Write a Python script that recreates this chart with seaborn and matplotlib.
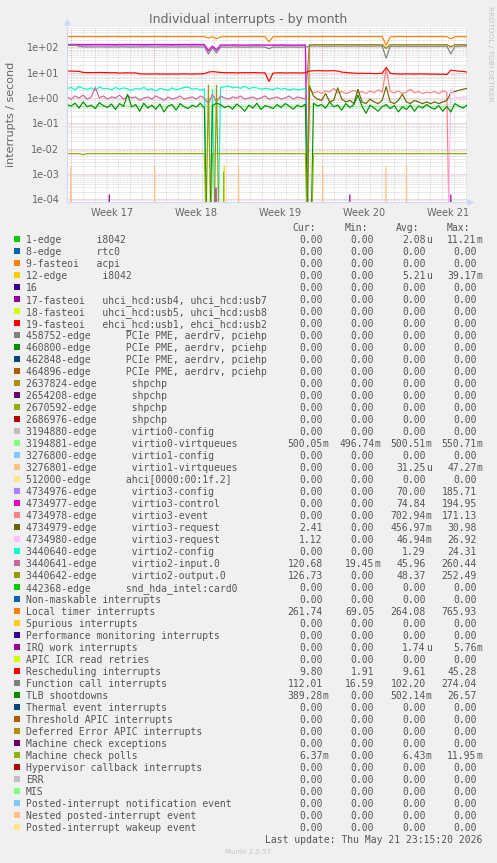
import numpy as np
import pandas as pd
import matplotlib
matplotlib.use("Agg")
import matplotlib.pyplot as plt
import seaborn as sns
from matplotlib.ticker import LogLocator, NullFormatter, FixedLocator, FuncFormatter
from matplotlib.patches import Rectangle

# ------------------------------------------------------------------ data
SPAN_DAYS = 33.4
N_POINTS = 100
days = np.linspace(0, SPAN_DAYS, N_POINTS)

week_starts = [0.3, 7.3, 14.3, 21.3, 28.3]
week_labels = ["Week 17", "Week 18", "Week 19", "Week 20", "Week 21"]

local_timer = [266, 265, 267, 266, 265, 266, 264, 265, 266, 265,
               266, 265, 264, 265, 266, 265, 264, 266, 265, 264,
               265, 266, 265, 264, 265, 266, 265, 264, 265, 266,
               265, 264, 265, 266, 264, 232, 262, 218, 258, 264,
               265, 264, 265, 266, 265, 264, 265, 266, 265, 264,
               165, 262, 265, 264, 265, 266, 265, 264, 265, 266,
               265, 264, 266, 265, 264, 265, 266, 265, 264, 265,
               266, 265, 264, 265, 266, 265, 264, 265, 266, 120,
               258, 264, 265, 266, 265, 264, 265, 266, 265, 264,
               265, 266, 265, 264, 265, 215, 262, 265, 264, 262]

virtio3_config = [120, 120, 121, 120, 120, 119, 120, 120, 121, 120,
                  120, 120, 119, 120, 120, 121, 120, 120, 120, 119,
                  120, 120, 121, 120, 120, 120, 119, 120, 120, 121,
                  120, 120, 120, 119, 120, 70, 108, 72, 118, 118,
                  118, 119, 118, 118, 117, 118, 118, 119, 118, 118,
                  117, 118, 118, 119, 118, 118, 117, 118, 118, 118,
                  0, 0, 0, 0, 0, 0, 0, 0, 0, 0,
                  0, 0, 0, 0, 0, 0, 0, 0, 0, 0,
                  0, 0, 0, 0, 0, 0, 0, 0, 0, 0,
                  0, 0, 0, 0, 0, 0, 0, 0, 0, 0]

virtio3_control = [130, 130, 131, 130, 130, 129, 130, 130, 131, 130,
                   130, 130, 129, 130, 130, 131, 130, 130, 130, 129,
                   130, 130, 131, 130, 130, 130, 129, 130, 130, 131,
                   130, 130, 130, 129, 130, 75, 112, 80, 124, 124,
                   124, 125, 124, 124, 123, 124, 124, 125, 124, 124,
                   123, 124, 124, 125, 124, 124, 123, 124, 124, 124,
                   0, 0, 0, 0, 0, 0, 0, 0, 0, 0,
                   0, 0, 0, 0, 0, 0, 0, 0, 0, 0,
                   0, 0, 0, 0, 0, 0, 0, 0, 0, 0,
                   0, 0, 0, 0, 0, 0, 0, 0, 0, 0]

virtio3_event = [0, 0, 0, 0, 0, 0, 0, 0, 0, 0,
                 0, 0, 0, 0, 0, 0, 0, 0, 0, 0,
                 0, 0, 0, 0, 0, 0, 0, 0, 0, 0,
                 0, 0, 0, 0, 0, 0, 0, 0, 0, 0,
                 0, 0, 0, 0, 0, 0, 0, 0, 0, 0,
                 0, 0, 0, 0, 0, 0, 0, 0, 0, 0,
                 2.2, 1.6, 1.8, 1.5, 1.9, 1.7, 2.4, 1.6, 1.8, 1.5,
                 1.7, 2.0, 1.6, 1.8, 1.5, 1.9, 1.6, 2.1, 1.7, 14.0,
                 1.8, 1.6, 1.9, 1.5, 1.7, 2.2, 1.6, 1.8, 1.5, 1.7,
                 1.6, 1.8, 1.5, 1.9, 1.7, 0, 0, 0, 0, 0]

virtio3_request_a = [0, 0, 0, 0, 0, 0, 0, 0, 0, 0,
                     0, 0, 0, 0, 0, 0, 0, 0, 0, 0,
                     0, 0, 0, 0, 0, 0, 0, 0, 0, 0,
                     0, 0, 0, 0, 0, 0, 0, 0, 0, 0,
                     0, 0, 0, 0, 0, 0, 0, 0, 0, 0,
                     0, 0, 0, 0, 0, 0, 0, 0, 0, 0,
                     3.0, 1.2, 0.9, 0.8, 1.5, 0.7, 0.8, 2.5, 0.9, 0.7,
                     0.8, 0.6, 2.2, 0.7, 0.6, 0.9, 0.7, 0.6, 0.8, 2.8,
                     0.7, 0.6, 0.8, 1.4, 0.7, 0.6, 0.8, 0.7, 0.6, 0.7,
                     0.6, 0.7, 0.6, 0.7, 0.8, 1.6, 1.8, 2.0, 2.2, 2.4]

virtio3_request_b = [0, 0, 0, 0, 0, 0, 0, 0, 0, 0,
                     0, 0, 0, 0, 0, 0, 0, 0, 0, 0,
                     0, 0, 0, 0, 0, 0, 0, 0, 0, 0,
                     0, 0, 0, 0, 0, 0, 0, 0, 0, 0,
                     0, 0, 0, 0, 0, 0, 0, 0, 0, 0,
                     0, 0, 0, 0, 0, 0, 0, 0, 0, 0,
                     0, 0, 0, 0, 0, 0, 0, 0, 0, 0,
                     0, 0, 0, 0, 0, 0, 0, 0, 0, 0,
                     0, 0, 0, 0, 0, 0, 0, 0, 0, 0,
                     0, 0, 0, 0, 0, 2.5, 1.1, 1.0, 1.1, 1.12]

virtio2_config = [2.3, 2.6, 2.1, 2.8, 2.4, 2.2, 2.5, 2.0, 2.7, 2.3,
                  2.4, 2.1, 2.6, 2.2, 2.5, 2.3, 2.0, 2.4, 2.2, 2.6,
                  2.1, 2.3, 1.9, 2.4, 2.2, 2.0, 2.5, 2.1, 2.3, 2.6,
                  2.7, 2.2, 2.4, 2.0, 2.3, 0, 2.2, 0, 2.6, 2.8,
                  3.0, 2.5, 2.7, 2.4, 2.9, 2.3, 2.6, 2.5, 2.2, 2.4,
                  2.3, 2.1, 2.5, 2.2, 2.4, 2.0, 2.3, 2.1, 2.2, 2.4,
                  0, 0, 0, 0, 0, 0, 0, 0, 0, 0,
                  0, 0, 0, 0, 0, 0, 0, 0, 0, 0,
                  0, 0, 0, 0, 0, 0, 0, 0, 0, 0,
                  0, 0, 0, 0, 0, 0, 0, 0, 0, 0]

virtio2_input = [1.1, 0.9, 1.2, 1.0, 1.3, 0.9, 1.1, 2.6, 1.0, 1.2,
                 0.9, 1.1, 1.0, 1.3, 0.9, 1.2, 1.0, 1.1, 0.8, 1.0,
                 1.1, 0.9, 1.2, 1.0, 0.8, 1.1, 0.9, 1.0, 1.2, 0.9,
                 1.0, 1.1, 0.9, 1.2, 1.0, 0.6, 1.4, 0.7, 1.2, 1.0,
                 0.9, 1.1, 1.0, 1.2, 0.9, 1.0, 1.1, 0.9, 1.0, 1.2,
                 0.9, 1.0, 1.1, 0.9, 1.0, 1.2, 0.9, 1.1, 1.0, 0.9,
                 127, 127, 127, 127, 127, 127, 127, 127, 127, 127,
                 127, 127, 127, 127, 127, 127, 127, 127, 127, 90,
                 127, 127, 127, 127, 127, 127, 127, 127, 127, 127,
                 127, 127, 127, 127, 127, 105, 127, 127, 127, 120]

virtio2_output = [0, 0, 0, 0, 0, 0, 0, 0, 0, 0,
                  0, 0, 0, 0, 0, 0, 0, 0, 0, 0,
                  0, 0, 0, 0, 0, 0, 0, 0, 0, 0,
                  0, 0, 0, 0, 0, 3.2, 0, 3.2, 0, 0,
                  0, 0, 0, 0, 0, 0, 0, 0, 0, 0,
                  0, 0, 0, 0, 0, 0, 0, 0, 0, 0,
                  128, 128, 129, 128, 128, 127, 128, 128, 129, 128,
                  128, 128, 127, 128, 128, 129, 128, 128, 128, 92,
                  128, 128, 129, 128, 128, 127, 128, 128, 129, 128,
                  128, 128, 127, 128, 128, 105, 127, 128, 127, 127]

rescheduling = [11.5, 11.6, 11.4, 11.2, 10.2, 10.0, 10.1, 10.0, 10.2, 10.1,
                10.0, 9.9, 10.0, 9.6, 9.8, 9.9, 9.7, 9.8, 9.0, 8.9,
                8.8, 8.9, 9.0, 8.8, 8.9, 8.7, 8.9, 8.8, 8.9, 9.0,
                8.9, 8.8, 9.0, 8.9, 9.1, 10.5, 11.0, 10.6, 10.2, 10.0,
                9.9, 10.0, 9.8, 9.9, 10.0, 9.9, 10.1, 10.0, 9.8, 9.9,
                4.5, 9.6, 9.8, 9.9, 9.7, 9.8, 9.9, 9.8, 9.7, 9.9,
                11.6, 11.8, 12.0, 11.9, 11.7, 11.8, 12.0, 11.6, 10.5, 10.2,
                9.8, 9.6, 9.4, 9.5, 9.3, 9.4, 9.2, 9.3, 9.4, 16.0,
                9.5, 9.0, 8.9, 8.8, 9.0, 8.9, 8.8, 9.0, 8.9, 8.8,
                8.7, 8.8, 8.6, 8.7, 8.5, 12.5, 12.0, 11.4, 11.2, 10.5]

function_call = [122, 122, 121, 110, 104, 104, 103, 104, 105, 104,
                 104, 103, 104, 104, 105, 104, 103, 104, 104, 105,
                 104, 104, 103, 104, 105, 104, 104, 103, 104, 104,
                 105, 104, 104, 103, 104, 55, 95, 60, 103, 103,
                 102, 103, 104, 103, 102, 103, 103, 104, 103, 102,
                 88, 103, 103, 102, 103, 104, 103, 102, 103, 103,
                 112, 112, 113, 112, 111, 112, 112, 113, 112, 111,
                 112, 112, 113, 112, 111, 112, 112, 113, 112, 37,
                 110, 111, 110, 110, 111, 110, 110, 111, 110, 110,
                 111, 110, 110, 111, 110, 55, 108, 111, 112, 112]

tlb_shootdowns = [0.55, 0.48, 0.62, 0.40, 0.70, 0.45, 0.52, 0.38, 0.65, 0.50,
                  0.42, 0.58, 0.35, 0.60, 0.47, 1.40, 0.44, 0.55, 0.30, 0.62,
                  0.40, 0.52, 0.36, 0.58, 0.28, 0.48, 0.55, 0.33, 0.60, 0.45,
                  0.38, 0.52, 0.44, 0.62, 0.40, 0.0, 0.50, 0.62, 0.55, 0.42,
                  0.48, 0.36, 0.58, 0.44, 0.30, 0.52, 0.40, 0.62, 0.35, 0.50,
                  0.45, 0.38, 0.55, 0.42, 0.60, 0.48, 0.36, 0.52, 0.44, 0.58,
                  0.0, 0.62, 0.48, 0.55, 0.40, 0.70, 0.45, 0.52, 0.33, 0.60,
                  0.42, 0.55, 1.30, 0.48, 0.25, 0.52, 0.40, 0.30, 0.45, 0.55,
                  0.38, 0.50, 0.28, 0.45, 0.35, 0.52, 0.30, 0.48, 0.40, 0.55,
                  0.42, 0.36, 0.50, 0.30, 0.46, 0.28, 0.60, 0.48, 0.40, 0.52]

virtio0_virtqueues = [0.50, 0.50, 0.50, 0.50, 0.50, 0.50, 0.50, 0.50, 0.50, 0.50,
                      0.50, 0.50, 0.50, 0.50, 0.50, 0.50, 0.50, 0.50, 0.50, 0.50,
                      0.50, 0.50, 0.50, 0.50, 0.50, 0.50, 0.50, 0.50, 0.50, 0.50,
                      0.50, 0.50, 0.50, 0.50, 0.50, 0.50, 0.50, 0.50, 0.50, 0.50,
                      0.50, 0.50, 0.50, 0.50, 0.50, 0.50, 0.50, 0.50, 0.50, 0.50,
                      0.50, 0.50, 0.50, 0.50, 0.50, 0.50, 0.50, 0.50, 0.50, 0.50,
                      0.50, 0.50, 0.50, 0.50, 0.50, 0.50, 0.50, 0.50, 0.50, 0.50,
                      0.50, 0.50, 0.50, 0.50, 0.50, 0.50, 0.50, 0.50, 0.50, 0.50,
                      0.50, 0.50, 0.50, 0.50, 0.50, 0.50, 0.50, 0.50, 0.50, 0.50,
                      0.50, 0.50, 0.50, 0.50, 0.50, 0.50, 0.50, 0.50, 0.50, 0.50]

machine_check_polls = [0.0064, 0.0064, 0.0064, 0.0064, 0.0057, 0.0064, 0.0064, 0.0064, 0.0064, 0.0064,
                       0.0064, 0.0064, 0.0064, 0.0064, 0.0064, 0.0064, 0.0064, 0.0064, 0.0064, 0.0064,
                       0.0064, 0.0064, 0.0064, 0.0064, 0.0064, 0.0064, 0.0064, 0.0064, 0.0064, 0.0064,
                       0.0064, 0.0064, 0.0064, 0.0064, 0.0064, 0.0, 0.0064, 0.0064, 0.0064, 0.0064,
                       0.0064, 0.0064, 0.0064, 0.0064, 0.0064, 0.0064, 0.0064, 0.0064, 0.0064, 0.0064,
                       0.0064, 0.0064, 0.0064, 0.0064, 0.0064, 0.0064, 0.0064, 0.0064, 0.0064, 0.0064,
                       0.0, 0.0064, 0.0064, 0.0064, 0.0064, 0.0064, 0.0064, 0.0064, 0.0064, 0.0064,
                       0.0064, 0.0064, 0.0064, 0.0064, 0.0064, 0.0064, 0.0064, 0.0064, 0.0064, 0.0064,
                       0.0064, 0.0064, 0.0064, 0.0064, 0.0064, 0.0064, 0.0064, 0.0064, 0.0064, 0.0064,
                       0.0064, 0.0064, 0.0064, 0.0064, 0.0064, 0.0064, 0.0064, 0.0064, 0.0064, 0.0064]

# sparse bursts (day, rate)
virtio1_spike_days = [0.32, 7.32, 14.32, 21.35, 26.63, 28.35]
virtio1_spike_vals = [0.0020, 0.0020, 0.0020, 0.0020, 0.0020, 0.0020]
edge12_spike_days = [13.13]
edge12_spike_vals = [0.0020]
edge1_spike_days = [13.08]
edge1_spike_vals = [0.0012]
irq_work_spike_days = [3.53, 12.44, 23.62, 32.05]
irq_work_spike_vals = [0.00015, 0.00028, 0.00015, 0.00015]

# legend table
legend_labels = [
    "1-edge      i8042", "8-edge      rtc0", "9-fasteoi   acpi", "12-edge      i8042", "16",
    "17-fasteoi   uhci_hcd:usb4, uhci_hcd:usb7", "18-fasteoi   uhci_hcd:usb5, uhci_hcd:usb8",
    "19-fasteoi   ehci_hcd:usb1, ehci_hcd:usb2",
    "458752-edge      PCIe PME, aerdrv, pciehp", "460800-edge      PCIe PME, aerdrv, pciehp",
    "462848-edge      PCIe PME, aerdrv, pciehp", "464896-edge      PCIe PME, aerdrv, pciehp",
    "2637824-edge      shpchp", "2654208-edge      shpchp", "2670592-edge      shpchp",
    "2686976-edge      shpchp", "3194880-edge      virtio0-config", "3194881-edge      virtio0-virtqueues",
    "3276800-edge      virtio1-config", "3276801-edge      virtio1-virtqueues",
    "512000-edge      ahci[0000:00:1f.2]", "4734976-edge      virtio3-config",
    "4734977-edge      virtio3-control", "4734978-edge      virtio3-event",
    "4734979-edge      virtio3-request", "4734980-edge      virtio3-request",
    "3440640-edge      virtio2-config", "3440641-edge      virtio2-input.0",
    "3440642-edge      virtio2-output.0", "442368-edge      snd_hda_intel:card0",
    "Non-maskable interrupts", "Local timer interrupts", "Spurious interrupts",
    "Performance monitoring interrupts", "IRQ work interrupts", "APIC ICR read retries",
    "Rescheduling interrupts", "Function call interrupts", "TLB shootdowns",
    "Thermal event interrupts", "Threshold APIC interrupts", "Deferred Error APIC interrupts",
    "Machine check exceptions", "Machine check polls", "Hypervisor callback interrupts",
    "ERR", "MIS", "Posted-interrupt notification event", "Nested posted-interrupt event",
    "Posted-interrupt wakeup event"]

munin_palette = ["#00CC00", "#0066B3", "#FF8000", "#FFCC00", "#330099", "#990099", "#CCFF00",
                 "#FF0000", "#808080", "#008F00", "#00487D", "#B35A00", "#B38F00", "#6B006B",
                 "#8FB300", "#B30000", "#BEBEBE", "#80FF80", "#80C9FF", "#FFC080", "#FFE680",
                 "#AA80FF", "#EE00CC", "#FF8080", "#666600", "#FFBFFF", "#00FFCC", "#CC6699",
                 "#999900"]

Z = "0.00"
cur_vals = [Z, Z, Z, Z, Z, Z, Z, Z, Z, Z, Z, Z, Z, Z, Z, Z, Z, "500.05m", Z, Z, Z, Z, Z, Z,
            "2.41", "1.12", Z, "120.68", "126.73", Z, Z, "261.74", Z, Z, Z, Z, "9.80", "112.01",
            "389.28m", Z, Z, Z, Z, "6.37m", Z, Z, Z, Z, Z, Z]
min_vals = [Z, Z, Z, Z, Z, Z, Z, Z, Z, Z, Z, Z, Z, Z, Z, Z, Z, "496.74m", Z, Z, Z, Z, Z, Z,
            Z, Z, Z, "19.45m", Z, Z, Z, "69.05", Z, Z, Z, Z, "1.91", "16.59",
            Z, Z, Z, Z, Z, Z, Z, Z, Z, Z, Z, Z]
avg_vals = ["2.08u", Z, Z, "5.21u", Z, Z, Z, Z, Z, Z, Z, Z, Z, Z, Z, Z, Z, "500.51m", Z,
            "31.25u", Z, "70.00", "74.84", "702.94m", "456.97m", "46.94m", "1.29", "45.96",
            "48.37", Z, Z, "264.08", Z, Z, "1.74u", Z, "9.61", "102.20", "502.14m", Z, Z, Z, Z,
            "6.43m", Z, Z, Z, Z, Z, Z]
max_vals = ["11.21m", Z, Z, "39.17m", Z, Z, Z, Z, Z, Z, Z, Z, Z, Z, Z, Z, Z, "550.71m", Z,
            "47.27m", Z, "185.71", "194.95", "171.13", "30.98", "26.92", "24.31", "260.44",
            "252.49", Z, Z, "765.93", Z, Z, "5.76m", Z, "45.28", "274.04", "26.57", Z, Z, Z, Z,
            "11.95m", Z, Z, Z, Z, Z, Z]
col_headers = ["Cur:", "Min:", "Avg:", "Max:"]

# ------------------------------------------------------------------ build frame
FLOOR = 1e-9
frames = []
grid_series = {
    "3194881-edge": (virtio0_virtqueues, 17),
    "4734976-edge": (virtio3_config, 21),
    "4734977-edge": (virtio3_control, 22),
    "4734978-edge": (virtio3_event, 23),
    "4734979-edge": (virtio3_request_a, 24),
    "4734980-edge": (virtio3_request_b, 25),
    "3440640-edge": (virtio2_config, 26),
    "3440641-edge": (virtio2_input, 27),
    "3440642-edge": (virtio2_output, 28),
    "Local timer": (local_timer, 31),
    "Rescheduling": (rescheduling, 36),
    "Function call": (function_call, 37),
    "TLB": (tlb_shootdowns, 38),
    "MCP": (machine_check_polls, 43),
}
spike_series = {
    "1-edge": (edge1_spike_days, edge1_spike_vals, 0),
    "12-edge": (edge12_spike_days, edge12_spike_vals, 3),
    "3276801-edge": (virtio1_spike_days, virtio1_spike_vals, 19),
    "IRQ work": (irq_work_spike_days, irq_work_spike_vals, 34),
}

order_items = []
for name, (vals, idx) in grid_series.items():
    v = np.maximum(np.asarray(vals, dtype=float), FLOOR)
    frames.append(pd.DataFrame({"day": days, "value": v, "series": name}))
    order_items.append((idx, name))
HALF = 0.05
for name, (sd, sv, idx) in spike_series.items():
    xs, ys = [0.0], [FLOOR]
    for d, val in zip(sd, sv):
        xs += [d - HALF, d, d + HALF]
        ys += [FLOOR, val, FLOOR]
    xs.append(SPAN_DAYS)
    ys.append(FLOOR)
    frames.append(pd.DataFrame({"day": xs, "value": ys, "series": name}))
    order_items.append((idx, name))

df = pd.concat(frames, ignore_index=True)
order_items.sort()
hue_order = [n for _, n in order_items]
palette = {n: munin_palette[i % len(munin_palette)] for i, n in order_items}

# ------------------------------------------------------------------ figure
W, H = 497, 863
BG = "#F0F0F0"
FONT_C = "#666666"
fig = plt.figure(figsize=(W / 100, H / 100), dpi=100, facecolor=BG)


def fx(x):
    return x / W


def fy(y):
    return 1 - y / H


PLOT_L, PLOT_R, PLOT_T, PLOT_B = 67, 467, 27, 202
ax = fig.add_axes([fx(PLOT_L), fy(PLOT_B), (PLOT_R - PLOT_L) / W, (PLOT_B - PLOT_T) / H])
ax.set_facecolor("white")
ax.set_yscale("log")

sns.lineplot(data=df, x="day", y="value", hue="series", hue_order=hue_order,
             palette=palette, estimator=None, sort=False, legend=False,
             linewidth=0.85, ax=ax)

ax.set_xlim(0, SPAN_DAYS)
ax.set_ylim(7.8e-5, 635)
ax.set_xlabel("")
ax.set_ylabel("")

day_lines = [0.3 + k for k in range(34)]
ax.xaxis.set_major_locator(FixedLocator(week_starts))
ax.xaxis.set_minor_locator(FixedLocator(day_lines))
ax.xaxis.set_major_formatter(NullFormatter())
ax.yaxis.set_major_locator(LogLocator(base=10, numticks=20))
ax.yaxis.set_minor_locator(LogLocator(base=10, subs=np.arange(2, 10), numticks=20))
ax.yaxis.set_minor_formatter(NullFormatter())
ax.yaxis.set_major_formatter(FuncFormatter(lambda v, _: f"{v:.0e}"))
ax.set_axisbelow(True)
ax.grid(which="minor", color="#C8C8C8", linestyle=(0, (1, 1)), linewidth=0.5)
ax.grid(which="major", color="#E3A3A3", linestyle=(0, (1, 1)), linewidth=0.6)
ax.tick_params(which="both", length=0)
ax.tick_params(axis="y", which="major", labelsize=7, labelcolor=FONT_C, pad=5.5)
for s in ("top", "right"):
    ax.spines[s].set_visible(False)
for s in ("left", "bottom"):
    ax.spines[s].set_color("#CFD6F8")
    ax.spines[s].set_linewidth(0.8)
ax.plot([0], [1.03], marker="^", ms=3.5, color="#CFD6F8", transform=ax.transAxes, clip_on=False)
ax.plot([1.008], [0], marker=">", ms=3.5, color="#CFD6F8", transform=ax.transAxes, clip_on=False)

for ws, lab in zip(week_starts, week_labels):
    ax.text(ws + 3.5, -(212.7 - PLOT_B) / (PLOT_B - PLOT_T), lab,
            transform=ax.get_xaxis_transform(), ha="center", va="center",
            fontsize=7, color=FONT_C)

# title, axis label, side text
fig.text(fx(248.3), fy(23.5), "Individual interrupts - by month", ha="center",
         va="baseline", fontsize=9, color=FONT_C)
fig.text(fx(11), fy(114.5), "interrupts / second", rotation=90, ha="center",
         va="center", fontsize=8, color=FONT_C)
fig.text(fx(490), fy(53.5), "RRDTOOL / TOBI OETIKER", rotation=-90, ha="center",
         va="center", fontsize=5.4, color="#C4C4C4")

# legend table
MONO = "DejaVu Sans Mono"
LEG_C = "#555555"
LFS = 7.0
num_ends = [322.7, 374.3, 425.7, 476.7]
head_ends = [316.0, 368.3, 419.3, 470.0]
for hx, hd in zip(head_ends, col_headers):
    fig.text(fx(hx), fy(227.7 + 3.4), hd, ha="right", va="baseline",
             family=MONO, fontsize=LFS, color=LEG_C)

ROW0, ROWH = 239.3, 12.0
for k, lab in enumerate(legend_labels):
    yc = ROW0 + ROWH * k
    col = munin_palette[k % len(munin_palette)]
    fig.patches.append(Rectangle((fx(14), fy(yc + 3)), 6 / W, 6 / H,
                                 transform=fig.transFigure, facecolor=col,
                                 edgecolor="none"))
    fig.text(fx(26), fy(yc + 3.4), lab, ha="left", va="baseline",
             family=MONO, fontsize=LFS, color=LEG_C)
    for xe, colvals in zip(num_ends, (cur_vals, min_vals, avg_vals, max_vals)):
        s = colvals[k]
        if s[-1] in "mu":
            num, suf = s[:-1], s[-1]
        else:
            num, suf = s, ""
        fig.text(fx(xe), fy(yc + 3.4), num, ha="right", va="baseline",
                 family=MONO, fontsize=LFS, color=LEG_C)
        if suf:
            fig.text(fx(xe), fy(yc + 3.4), suf, ha="left", va="baseline",
                     family=MONO, fontsize=LFS, color=LEG_C)

fig.text(fx(482.7), fy(839.3 + 3.4), "Last update: Thu May 21 23:15:20 2026",
         ha="right", va="baseline", family=MONO, fontsize=LFS, color=LEG_C)
fig.text(fx(248), fy(852), "Munin 2.0.57", ha="center", va="center",
         fontsize=5, color="#C4C4C4")

fig.savefig("out.png", dpi=100, facecolor=BG)
